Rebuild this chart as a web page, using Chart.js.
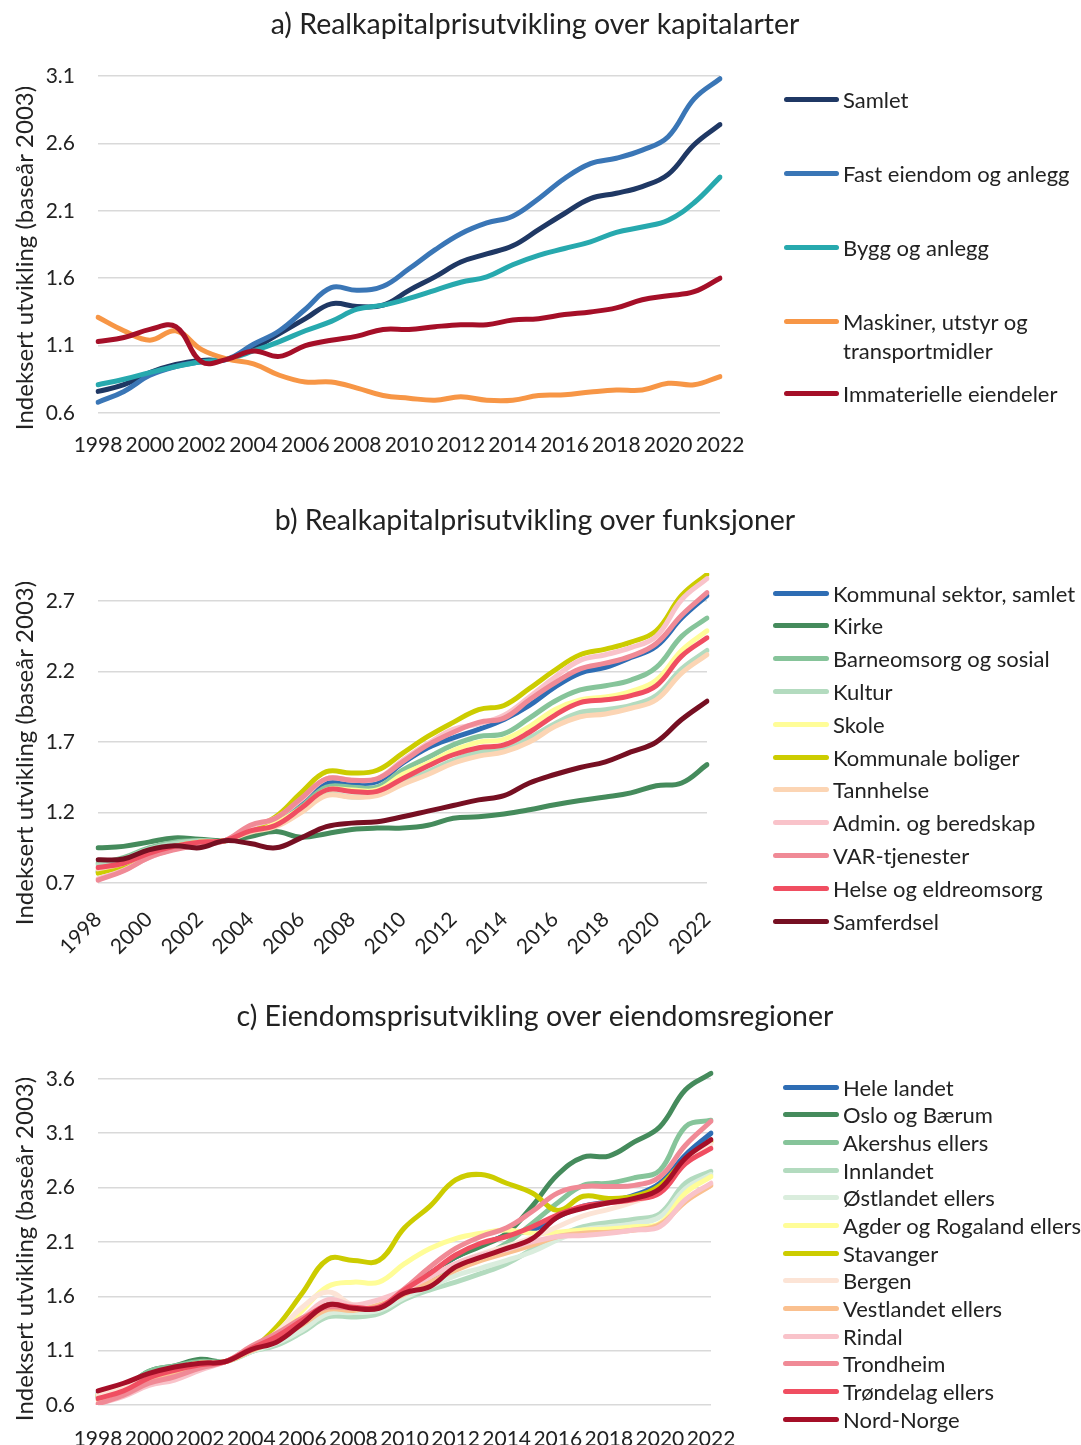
<!DOCTYPE html>
<html><head><meta charset="utf-8">
<script src="https://cdn.jsdelivr.net/npm/chart.js@4.4.1/dist/chart.umd.min.js"></script>
<style>
body{margin:0;background:#fff;width:1081px;height:1445px;position:relative;overflow:hidden;font-family:Lato,"Open Sans",sans-serif;color:#222}
.box{position:absolute;left:0;width:1081px}
.lg{position:absolute;line-height:29px}
.lg i{position:absolute;height:5px;border-radius:3px}
</style></head><body>
<div class="box" style="top:0;height:480px"><canvas id="cA"></canvas></div>
<div class="box" style="top:480px;height:495px"><canvas id="cB"></canvas></div>
<div class="box" style="top:975px;height:470px"><canvas id="cC"></canvas></div>
<div id="legends"></div>
<script>
// ═══ DATA ═══
var years=['1998','1999','2000','2001','2002','2003','2004','2005','2006','2007','2008','2009','2010','2011','2012','2013','2014','2015','2016','2017','2018','2019','2020','2021','2022'];

// a) kapitalarter
var namesA=['Samlet','Fast eiendom og anlegg','Bygg og anlegg','Maskiner, utstyr og transportmidler','Immaterielle eiendeler'];
var colorsA=['#1F3864','#3A76B6','#27A9AE','#F79646','#A50F28'];
var samlet=[0.76,0.81,0.90,0.96,0.99,1.0,1.08,1.19,1.30,1.41,1.39,1.40,1.51,1.61,1.72,1.78,1.84,1.96,2.08,2.19,2.23,2.28,2.37,2.59,2.74];
var fastEiendom=[0.68,0.76,0.88,0.945,0.98,1.0,1.11,1.21,1.37,1.53,1.51,1.54,1.67,1.81,1.93,2.01,2.06,2.19,2.34,2.45,2.49,2.55,2.65,2.93,3.08];
var byggAnlegg=[0.81,0.85,0.90,0.945,0.98,1.0,1.06,1.13,1.21,1.28,1.37,1.40,1.45,1.51,1.57,1.61,1.70,1.77,1.82,1.87,1.94,1.98,2.03,2.16,2.35];
var maskiner=[1.31,1.21,1.14,1.21,1.07,1.0,0.965,0.88,0.83,0.83,0.785,0.73,0.71,0.695,0.72,0.695,0.695,0.73,0.735,0.755,0.77,0.77,0.82,0.81,0.87];
var immaterielle=[1.13,1.16,1.22,1.24,0.98,1.0,1.06,1.02,1.10,1.14,1.17,1.22,1.22,1.24,1.255,1.255,1.29,1.30,1.33,1.35,1.38,1.44,1.47,1.50,1.60];
var ticksA=[0.6,1.1,1.6,2.1,2.6,3.1];

// b) funksjoner
var namesB=['Kommunal sektor, samlet','Kirke','Barneomsorg og sosial','Kultur','Skole','Kommunale boliger','Tannhelse','Admin. og beredskap','VAR-tjenester','Helse og eldreomsorg','Samferdsel'];
var colorsB=['#2E6DB4','#458B5C','#86C49A','#B3DBBF','#FFFD98','#CCCC00','#FCD5B4','#F9C3CA','#F08A96','#F04E61','#760F22'];
var kommunal=[0.78,0.83,0.90,0.955,0.98,1.0,1.09,1.15,1.28,1.41,1.41,1.42,1.55,1.66,1.73,1.79,1.86,1.96,2.09,2.19,2.23,2.30,2.38,2.58,2.74];
var kirke=[0.95,0.96,0.99,1.02,1.01,1.0,1.03,1.065,1.025,1.05,1.08,1.09,1.09,1.11,1.16,1.17,1.19,1.22,1.255,1.285,1.31,1.34,1.39,1.41,1.54];
var barneomsorg=[0.84,0.88,0.95,0.99,1.0,1.0,1.08,1.125,1.24,1.38,1.38,1.38,1.50,1.59,1.68,1.74,1.76,1.87,1.99,2.07,2.10,2.14,2.23,2.45,2.58];
var kultur=[0.83,0.87,0.94,0.98,1.0,1.0,1.07,1.11,1.21,1.33,1.31,1.33,1.41,1.49,1.57,1.63,1.65,1.73,1.83,1.91,1.93,1.96,2.03,2.22,2.35];
var skole=[0.79,0.83,0.91,0.96,0.99,1.0,1.07,1.125,1.23,1.36,1.36,1.36,1.47,1.55,1.64,1.70,1.72,1.81,1.93,2.00,2.02,2.06,2.14,2.35,2.49];
var boliger=[0.77,0.82,0.91,0.96,0.99,1.0,1.08,1.17,1.34,1.49,1.48,1.50,1.62,1.74,1.84,1.93,1.96,2.08,2.21,2.32,2.36,2.41,2.49,2.74,2.89];
var tannhelse=[0.80,0.84,0.91,0.96,0.99,1.0,1.06,1.10,1.20,1.32,1.31,1.32,1.40,1.47,1.55,1.60,1.63,1.70,1.81,1.88,1.90,1.94,2.00,2.19,2.32];
var admin=[0.73,0.79,0.88,0.94,0.97,1.0,1.10,1.16,1.29,1.44,1.43,1.44,1.57,1.69,1.79,1.83,1.89,2.02,2.16,2.28,2.32,2.37,2.45,2.71,2.86];
var varTj=[0.72,0.785,0.88,0.935,0.97,1.0,1.11,1.16,1.30,1.44,1.43,1.44,1.56,1.68,1.77,1.84,1.87,2.00,2.12,2.22,2.26,2.31,2.40,2.60,2.76];
var helse=[0.81,0.84,0.91,0.96,0.99,1.0,1.07,1.11,1.23,1.36,1.35,1.35,1.44,1.53,1.61,1.66,1.68,1.77,1.89,1.98,2.00,2.03,2.10,2.31,2.44];
var samferdsel=[0.865,0.87,0.935,0.965,0.95,1.0,0.98,0.95,1.02,1.10,1.125,1.135,1.17,1.21,1.25,1.29,1.32,1.41,1.47,1.52,1.56,1.63,1.70,1.86,1.99];
var ticksB=[0.7,1.2,1.7,2.2,2.7];

// c) eiendomsregioner
var namesC=['Hele landet','Oslo og Bærum','Akershus ellers','Innlandet','Østlandet ellers','Agder og Rogaland ellers','Stavanger','Bergen','Vestlandet ellers','Rindal','Trondheim','Trøndelag ellers','Nord-Norge'];
var colorsC=['#2E6DB4','#458B5C','#86C49A','#B3DBBF','#DAEDDD','#FFFD98','#CCCC00','#FCE4D6','#FAC08F','#F9C3CA','#F08A96','#F04E61','#A50F28'];
var heleLandet=[0.71,0.78,0.88,0.94,0.985,1.0,1.11,1.21,1.38,1.54,1.49,1.49,1.66,1.81,1.96,2.07,2.16,2.21,2.33,2.43,2.47,2.53,2.64,2.90,3.10];
var oslo=[0.67,0.75,0.91,0.96,1.02,1.0,1.11,1.20,1.36,1.55,1.50,1.49,1.66,1.81,1.96,2.06,2.18,2.43,2.72,2.88,2.89,3.02,3.16,3.50,3.65];
var akershus=[0.68,0.75,0.91,0.96,1.0,1.0,1.09,1.18,1.35,1.50,1.47,1.47,1.61,1.74,1.87,1.96,2.09,2.27,2.46,2.62,2.64,2.69,2.76,3.16,3.22];
var innlandet=[0.69,0.76,0.88,0.94,0.985,1.0,1.09,1.15,1.27,1.41,1.41,1.44,1.57,1.66,1.73,1.81,1.90,2.03,2.15,2.24,2.28,2.31,2.36,2.64,2.75];
var ostlandet=[0.69,0.76,0.88,0.94,0.985,1.0,1.09,1.17,1.29,1.44,1.45,1.47,1.59,1.69,1.79,1.86,1.93,2.01,2.12,2.21,2.24,2.27,2.33,2.59,2.72];
var agder=[0.69,0.76,0.88,0.94,0.985,1.0,1.11,1.23,1.47,1.69,1.73,1.73,1.90,2.04,2.13,2.18,2.21,2.18,2.19,2.21,2.22,2.24,2.27,2.55,2.70];
var stavanger=[0.69,0.76,0.88,0.94,0.985,1.0,1.11,1.32,1.63,1.94,1.93,1.93,2.23,2.43,2.67,2.72,2.64,2.55,2.39,2.52,2.50,2.52,2.62,2.86,3.02];
var bergen=[0.69,0.76,0.88,0.94,0.985,1.0,1.11,1.27,1.50,1.64,1.52,1.52,1.64,1.78,1.90,1.99,2.06,2.14,2.24,2.34,2.40,2.47,2.57,2.82,3.00];
var vestlandet=[0.65,0.71,0.82,0.88,0.95,1.0,1.10,1.20,1.34,1.48,1.47,1.52,1.62,1.73,1.84,1.93,2.00,2.07,2.15,2.18,2.19,2.21,2.26,2.47,2.62];
var rindal=[0.61,0.68,0.78,0.83,0.92,1.0,1.12,1.24,1.40,1.57,1.52,1.57,1.66,1.78,1.90,1.98,2.03,2.10,2.15,2.16,2.18,2.21,2.24,2.49,2.64];
var trondheim=[0.61,0.69,0.80,0.86,0.94,1.0,1.14,1.26,1.40,1.50,1.49,1.50,1.67,1.87,2.04,2.15,2.23,2.38,2.55,2.61,2.61,2.62,2.70,2.99,3.21];
var trondelag=[0.66,0.73,0.85,0.92,0.97,1.0,1.12,1.23,1.38,1.52,1.50,1.50,1.66,1.81,1.98,2.09,2.15,2.24,2.35,2.43,2.46,2.49,2.55,2.82,2.96];
var nordNorge=[0.73,0.80,0.89,0.95,0.985,1.0,1.11,1.18,1.35,1.52,1.49,1.49,1.63,1.69,1.87,1.96,2.04,2.13,2.33,2.41,2.46,2.50,2.59,2.87,3.04];
var ticksC=[0.6,1.1,1.6,2.1,2.6,3.1,3.6];

var yLabel='Indeksert utvikling (baseår 2003)';
var TXT='#222',GRID='#D9D9D9',FONT='Lato, "Open Sans", sans-serif';

// titles drawn on the canvas at fixed spots (centred on the whole figure, not the plot)
var textMarks={id:'textMarks',afterDraw:function(ch,args,o){
  var c=ch.ctx;c.save();c.fillStyle=TXT;c.textAlign='center';c.textBaseline='middle';
  c.font=o.titleSize+'px '+FONT;c.fillText(o.title,o.titleX,o.titleY);
  c.font=o.ySize+'px '+FONT;c.translate(25,o.yTitleY);c.rotate(-Math.PI/2);c.fillText(yLabel,0,0);
  c.restore();}};

function makeChart(id,title,names,series,colors,o){
  var ds=series.map(function(s,i){return{label:names[i],data:s,borderColor:colors[i],backgroundColor:colors[i],
    borderWidth:5,pointRadius:0,tension:0.4,borderCapStyle:'round',borderJoinStyle:'round',fill:false,order:-i};});
  return new Chart(document.getElementById(id),{type:'line',
    data:{labels:years,datasets:ds},
    plugins:[textMarks],
    options:{responsive:true,maintainAspectRatio:false,animation:false,
      layout:{padding:{left:0,right:o.padR,top:o.padT,bottom:0}},
      plugins:{legend:{display:false},tooltip:{enabled:false},title:{display:false},
        textMarks:{title:title,titleX:535,titleY:o.titleY,titleSize:28.5,yTitleY:o.yTitleY,ySize:24}},
      scales:{
        x:{grid:{display:false},border:{display:false},
          ticks:{autoSkip:false,color:TXT,font:{family:FONT,size:21},padding:o.xPad,minRotation:o.rot,maxRotation:o.rot,
            callback:function(v,i){return i%2===0?this.getLabelForValue(v):'';}},
          afterFit:function(s){s.height=o.xH;}},
        y:{min:o.min,max:o.max,border:{display:false},
          grid:{color:GRID,lineWidth:1.5,drawTicks:false},
          ticks:{color:TXT,font:{family:FONT,size:21},padding:23,callback:function(v){return v.toFixed(1);}},
          afterBuildTicks:function(s){s.ticks=o.ticks.map(function(v){return{value:v};});},
          afterFit:function(s){s.width=98;}}
      }}});
}

makeChart('cA','a) Realkapitalprisutvikling over kapitalarter',namesA,
  [samlet,fastEiendom,byggAnlegg,maskiner,immaterielle],colorsA,
  {min:0.6,max:3.1,ticks:ticksA,padR:361,padT:76,titleY:25,xH:67,xPad:12,rot:0,yTitleY:258});
makeChart('cB','b) Realkapitalprisutvikling over funksjoner',namesB,
  [kommunal,kirke,barneomsorg,kultur,skole,boliger,tannhelse,admin,varTj,helse,samferdsel],colorsB,
  {min:0.7,max:2.9,ticks:ticksB,padR:374,padT:93,titleY:41,xH:92,xPad:16,rot:45,yTitleY:273});
makeChart('cC','c) Eiendomsprisutvikling over eiendomsregioner',namesC,
  [heleLandet,oslo,akershus,innlandet,ostlandet,agder,stavanger,bergen,vestlandet,rindal,trondheim,trondelag,nordNorge],colorsC,
  {min:0.6,max:3.7,ticks:ticksC,padR:370,padT:93,titleY:42,xH:40,xPad:14,rot:0,yTitleY:274});

// ═══ LEGENDS (html) ═══
function legend(names,colors,lineX,textX,y0,step,size,maxW){
  var host=document.getElementById('legends');
  var steps=Array.isArray(step)?step:null;
  names.forEach(function(n,i){
    var cy=steps?steps[i]:y0+i*step;
    var d=document.createElement('div');d.className='lg';
    d.style.cssText='left:'+textX+'px;top:'+(cy-14.5)+'px;font-size:'+size+'px;'+(maxW?'width:'+maxW+'px;':'white-space:nowrap;');
    d.textContent=n;
    var l=document.createElement('i');
    l.style.cssText='left:'+(lineX-textX)+'px;top:12px;width:'+(textX-lineX-4)+'px;background:'+colors[i];
    d.appendChild(l);host.appendChild(d);
  });
}
legend(namesA,colorsA,784,843,0,[99,173,247,321,393],22,236);
legend(namesB,colorsB,773,833,593,32.8,22);
legend(namesC,colorsC,783,843,1087,27.67,22);
</script>
</body></html>
